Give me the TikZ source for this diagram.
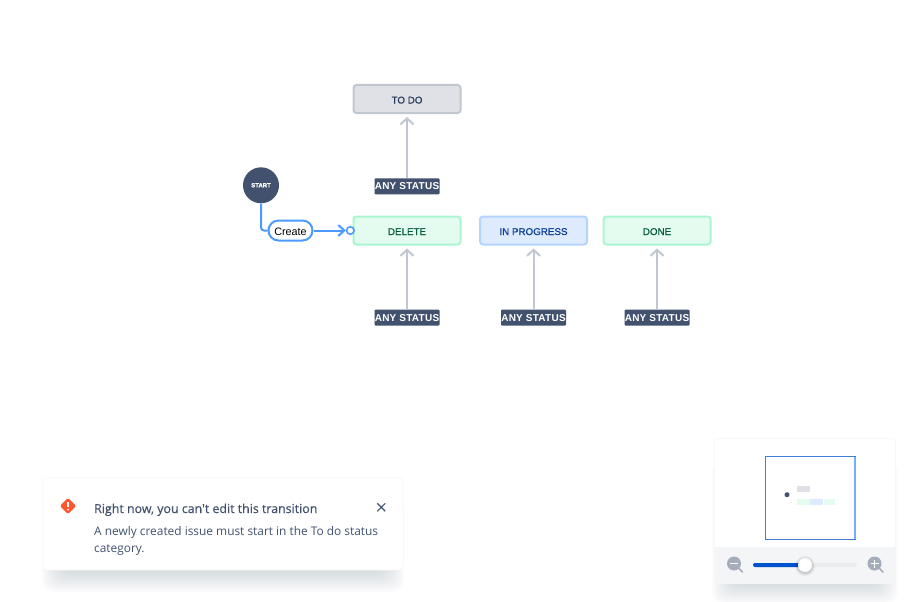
\documentclass[tikz,border=0pt]{standalone}
\usepackage{fontspec}
\setmainfont{Liberation Sans}
\newfontfamily\popfont{Open Sans}
\usetikzlibrary{arrows.meta, positioning, calc}
\definecolor{cNavy}{HTML}{42526E}
\definecolor{cDark}{HTML}{253858}
\definecolor{cGrey}{HTML}{C1C7D0}
\definecolor{cGreyFill}{HTML}{DFE1E6}
\definecolor{cGreen}{HTML}{ABF5D1}
\definecolor{cGreenFill}{HTML}{E3FCEF}
\definecolor{cGreenText}{HTML}{005A3C}
\definecolor{cBlue}{HTML}{B3D4FF}
\definecolor{cBlueFill}{HTML}{DEEBFF}
\definecolor{cBlueText}{HTML}{0A3D91}
\definecolor{cLine}{HTML}{4C9AFF}
\definecolor{cStrong}{HTML}{0052CC}
\definecolor{cRed}{HTML}{FF5630}
\definecolor{cPanel}{HTML}{F4F5F7}
\definecolor{cTrack}{HTML}{EBECF0}
\definecolor{cIcon}{HTML}{A5ADBA}
\tikzset{
	statusbox/.style={rectangle, rounded corners=3pt, line width=2pt, minimum width=107pt, minimum height=28pt, inner sep=0pt, text height=9pt, text depth=0pt, font=\fontsize{9.8}{11}\selectfont\addfontfeature{FakeBold=.5}},
	todobox/.style  ={statusbox, draw=cGrey, fill=cGreyFill, text=cDark},
	donebox/.style  ={statusbox, draw=cGreen, fill=cGreenFill, text=cGreenText},
	progbox/.style  ={statusbox, draw=cBlue, fill=cBlueFill, text=cBlueText},
	anybox/.style   ={rectangle, rounded corners=1pt, fill=cNavy, text=white, minimum width=65pt, minimum height=16pt, inner sep=0pt, font=\fontsize{10}{11}\bfseries\selectfont\addfontfeature{LetterSpace=2.5}},
	startdot/.style ={circle, fill=cNavy, text=white, minimum size=36pt, inner sep=0pt, font=\fontsize{6}{7}\bfseries\selectfont\addfontfeature{FakeBold=.5}},
	pill/.style     ={rectangle, rounded corners=10pt, draw=cLine, line width=2pt, fill=white, minimum width=44pt, minimum height=20pt, inner sep=0pt, text=black, text height=9.5pt, text depth=0pt, font=\fontsize{10.8}{13}\selectfont},
	endring/.style  ={circle, draw=cLine, line width=1.6pt, fill=white, minimum size=7.5pt, inner sep=0pt},
	anyarrow/.style ={-{Straight Barb[length=6pt, width=13pt]}, line width=2pt, cGrey, shorten >=3pt},
	bluearrow/.style={-{Straight Barb[length=6pt, width=11pt]}, line width=2pt, cLine},
	popbox/.style   ={rectangle, rounded corners=3pt, fill=white, draw=black!4, line width=.5pt, inner sep=0pt},
	poptext/.style  ={anchor=base west, inner sep=0pt, font=\popfont\fontsize{11.9}{14}\selectfont, text=cNavy},
	mini/.style     ={rectangle, inner sep=0pt, minimum height=6pt},
	zoomicon/.style ={circle, fill=cIcon, minimum size=14pt, inner sep=0pt},
}

\begin{document}
\begin{tikzpicture}[x=1pt, y=-1pt]
	\useasboundingbox (0,0) rectangle (911,602);
	\fill[white] (0,0) rectangle (911,602);
	% soft shadows
	\foreach \s in {-14,-12,...,14} {
		\fill[cDark, opacity=.014, rounded corners=12pt] (56-\s,497) rectangle (390+\s,578+\s);
		\fill[cDark, opacity=.014, rounded corners=12pt] (726-\s,460) rectangle (884+\s,590+\s);
	}
	% statuses
	\node[todobox] (todo) at (407,99) {TO DO};
	\node[donebox] (delete) at (407,230.5) {DELETE};
	\node[progbox] (progress) at (533.5,230.5) {IN PROGRESS};
	\node[donebox] (done) at (657,230.5) {DONE};
	\node[anybox] (anytodo) at (407,186.3) {ANY STATUS};
	\node[anybox] (anydelete) at (407,317.7) {ANY STATUS};
	\node[anybox] (anyprogress) at (533.5,317.7) {ANY STATUS};
	\node[anybox] (anydone) at (657,317.7) {ANY STATUS};
	\foreach \a/\b in {anytodo/todo, anydelete/delete, anyprogress/progress, anydone/done}
		\draw[anyarrow] (\a) -- (\b);
	% start transition
	\node[startdot] (start) at (261,185.3) {START};
	\node[pill] (create) at (290.5,230.5) {Create};
	\node[endring] (ring) at (350.3,230.5) {};
	\draw[line width=2pt, cLine, rounded corners=3pt] (start.south) |- (create.west);
	\draw[bluearrow] (create) -- (ring);
	% message
	\node[popbox, minimum width=360pt, minimum height=92pt] (toast) at (223,524) {};
	\node[rectangle, rotate=45, rounded corners=1.5pt, fill=cRed, minimum size=11.5pt, inner sep=0pt] (erricon) at (68,506) {};
	\draw[white, line width=1.6pt] (68,501.5) -- (68,506.5);
	\fill[white] (68,509.6) circle (1.1);
	\node[poptext, font=\popfont\fontsize{12.4}{14}\selectfont\addfontfeature{FakeBold=.4}] (toasthead) at (94,513) {Right now, you can't edit this transition};
	\node[poptext] (toastline) at (94,535) {A newly created issue must start in the To do status};
	\node[poptext] (toastwrap) at (94,552) {category.};
	\draw[cNavy, line width=1.2pt] (377.3,503.3) -- (385.3,511.3) (385.3,503.3) -- (377.3,511.3);
	% overview panel
	\node[popbox, minimum width=181pt, minimum height=145pt] (panel) at (805,511) {};
	\fill[cPanel, rounded corners=2pt] (715,547) rectangle (895,583);
	\fill[cPanel] (715,547) rectangle (895,570);
	\draw[line width=1pt, cStrong!75] (765.5,456.5) rectangle (855,539);
	\draw[line width=1.2pt, cLine!80] (855,456.5) -- (855,539);
	\node[circle, fill=cNavy, minimum size=5pt, inner sep=0pt] (minidot) at (787,494.7) {};
	\node[mini, fill=cGreyFill, minimum width=13pt] (minitodo) at (803.3,488.7) {};
	\node[mini, fill=cGreenFill, minimum width=13pt] (minidelete) at (803.5,502) {};
	\node[mini, fill=cBlueFill, minimum width=13pt, right=0pt of minidelete] (miniprog) {};
	\node[mini, fill=cGreenFill, minimum width=11pt, right=0pt of miniprog] (minidone) {};
	% zoom slider
	\fill[cTrack, rounded corners=2pt] (753,563) rectangle (857,567);
	\fill[cStrong, rounded corners=2pt] (753,563) rectangle (805,567);
	\foreach \s in {0,1,2,3} \fill[black, opacity=.05] (805,566) circle (7+\s);
	\node[circle, fill=white, minimum size=14pt, inner sep=0pt] (knob) at (805,565) {};
	\node[zoomicon] (zoomout) at (734,563.5) {};
	\node[zoomicon] (zoomin) at (874.5,563.5) {};
	\draw[cIcon, line width=1.5pt, line cap=round] (zoomout) -- (742.5,572) (zoomin) -- (883,572);
	\draw[white, line width=1.6pt] (730,563.5) -- (738,563.5) (870.5,563.5) -- (878.5,563.5) (874.5,559.5) -- (874.5,567.5);
\end{tikzpicture}
\end{document}
